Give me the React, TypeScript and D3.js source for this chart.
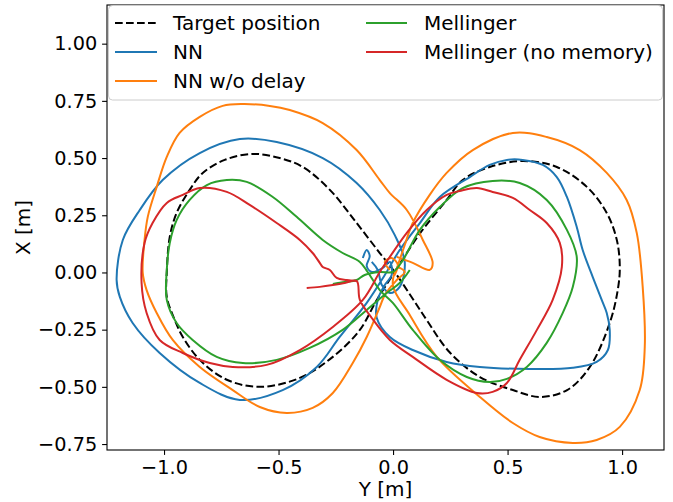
import React, { useEffect, useRef } from 'react'
import * as d3 from 'd3'

type Pt = [number, number]

// values (Y [m], X [m])
const targetPts: Pt[] = [
  [0.007, 0.002], [0.117, 0.17], [0.234, 0.317], [0.304, 0.404], [0.422, 0.461],
  [0.566, 0.487], [0.715, 0.461], [0.846, 0.374], [0.933, 0.26], [0.977, 0.142],
  [0.99, 0.024], [0.981, -0.077], [0.946, -0.221], [0.859, -0.413], [0.76, -0.514],
  [0.64, -0.544], [0.523, -0.514], [0.379, -0.457], [0.247, -0.349], [0.147, -0.208],
  [0.095, -0.129], [0.007, 0.002], [-0.058, 0.085], [-0.159, 0.216], [-0.276, 0.361],
  [-0.394, 0.461], [-0.495, 0.5], [-0.613, 0.518], [-0.735, 0.492], [-0.831, 0.435],
  [-0.888, 0.361], [-0.945, 0.26], [-0.975, 0.155], [-0.988, -0.002], [-0.988, -0.107],
  [-0.953, -0.208], [-0.918, -0.282], [-0.844, -0.382], [-0.726, -0.469], [-0.582, -0.5],
  [-0.407, -0.461], [-0.263, -0.369], [-0.145, -0.251], [-0.071, -0.12], [0.007, 0.002]
]

const nnPts: Pt[] = [
  [-0.132, 0.063], [-0.115, 0.098], [-0.102, 0.072], [-0.115, 0.028], [-0.093, 0.002],
  [-0.045, 0.02], [-0.014, 0.046], [-0.006, -0.011], [-0.036, -0.055], [-0.067, -0.12],
  [-0.071, -0.199], [-0.014, -0.282], [0.086, -0.339], [0.234, -0.391], [0.379, -0.413],
  [0.597, -0.422], [0.785, -0.417], [0.889, -0.391], [0.938, -0.339], [0.946, -0.251],
  [0.933, -0.177], [0.911, -0.12], [0.872, -0.02], [0.828, 0.098], [0.802, 0.199],
  [0.759, 0.33], [0.715, 0.417], [0.654, 0.47], [0.566, 0.492], [0.497, 0.492],
  [0.422, 0.47], [0.335, 0.417], [0.204, 0.33], [0.117, 0.216], [0.029, 0.098],
  [-0.036, -0.011], [-0.115, -0.133], [-0.233, -0.282], [-0.333, -0.413], [-0.482, -0.514],
  [-0.669, -0.557], [-0.844, -0.483], [-1.019, -0.352], [-1.137, -0.221], [-1.193, -0.107],
  [-1.207, -0.033], [-1.18, 0.142], [-1.106, 0.273], [-1.006, 0.404], [-0.844, 0.522],
  [-0.669, 0.583], [-0.508, 0.57], [-0.307, 0.5], [-0.159, 0.391], [-0.058, 0.273],
  [0.007, 0.164], [0.051, 0.046], [0.029, -0.063], [-0.014, -0.09], [-0.049, -0.055],
  [-0.067, 0.011], [-0.093, 0.046]
]

const nnNoDelayPts: Pt[] = [
  [-0.014, 0.011], [-0.036, 0.046], [-0.006, 0.063], [0.021, 0.033], [0.007, -0.011],
  [0.051, 0.12], [0.086, 0.216], [0.16, 0.339], [0.234, 0.435], [0.348, 0.535],
  [0.523, 0.61], [0.671, 0.592], [0.815, 0.535], [0.933, 0.435], [1.02, 0.317],
  [1.064, 0.173], [1.09, -0.063], [1.099, -0.326], [1.077, -0.514], [0.99, -0.675],
  [0.889, -0.732], [0.785, -0.745], [0.64, -0.719], [0.523, -0.658], [0.379, -0.544],
  [0.191, -0.369], [0.073, -0.186], [-0.001, -0.055], [0.021, 0.02], [0.051, 0.002],
  [0.016, -0.033], [-0.036, -0.098], [-0.058, -0.151], [-0.115, -0.282], [-0.176, -0.396],
  [-0.263, -0.527], [-0.351, -0.592], [-0.464, -0.614], [-0.582, -0.588], [-0.7, -0.514],
  [-0.844, -0.413], [-0.962, -0.295], [-1.032, -0.177], [-1.076, -0.077], [-1.093, -0.002],
  [-1.085, 0.142], [-1.071, 0.243], [-1.032, 0.374], [-0.988, 0.505], [-0.932, 0.61],
  [-0.844, 0.68], [-0.744, 0.728], [-0.656, 0.736], [-0.538, 0.728], [-0.451, 0.71],
  [-0.307, 0.653], [-0.159, 0.535], [-0.058, 0.404], [-0.014, 0.347], [0.06, 0.273],
  [0.13, 0.142], [0.173, 0.042], [0.16, 0.011], [0.086, 0.042], [0.016, 0.068]
]

const mellingerPts: Pt[] = [
  [-0.263, -0.05], [-0.211, -0.042], [-0.159, -0.033], [-0.124, -0.011], [-0.058, 0.002],
  [-0.001, 0.002], [0.038, 0.046], [0.117, 0.186], [0.204, 0.286], [0.304, 0.369],
  [0.435, 0.4], [0.553, 0.391], [0.671, 0.317], [0.759, 0.186], [0.802, 0.068],
  [0.785, -0.063], [0.741, -0.177], [0.671, -0.308], [0.584, -0.413], [0.497, -0.465],
  [0.422, -0.479], [0.322, -0.457], [0.204, -0.382], [0.086, -0.251], [-0.001, -0.133],
  [-0.058, -0.077], [-0.111, 0.002], [-0.145, 0.046], [-0.22, 0.085], [-0.307, 0.142],
  [-0.421, 0.243], [-0.525, 0.33], [-0.639, 0.396], [-0.726, 0.404], [-0.813, 0.382],
  [-0.888, 0.317], [-0.945, 0.229], [-0.975, 0.129], [-0.988, 0.011], [-0.988, -0.12],
  [-0.945, -0.221], [-0.875, -0.295], [-0.77, -0.369], [-0.656, -0.396], [-0.508, -0.382],
  [-0.364, -0.33], [-0.22, -0.251], [-0.115, -0.164], [-0.028, -0.09], [0.029, -0.046],
  [0.073, 0.011]
]

const mellingerNoMemPts: Pt[] = [
  [-0.377, -0.068], [-0.32, -0.063], [-0.263, -0.055], [-0.211, -0.046], [-0.159, -0.037],
  [-0.145, -0.12], [-0.093, -0.199], [-0.014, -0.295], [0.086, -0.369], [0.234, -0.469],
  [0.366, -0.527], [0.435, -0.522], [0.497, -0.483], [0.553, -0.382], [0.628, -0.251],
  [0.697, -0.12], [0.737, 0.024], [0.728, 0.129], [0.671, 0.216], [0.597, 0.273],
  [0.523, 0.326], [0.435, 0.352], [0.366, 0.369], [0.291, 0.356], [0.234, 0.339],
  [0.147, 0.273], [0.06, 0.173], [-0.014, 0.068], [-0.058, 0.002], [-0.132, -0.12],
  [-0.263, -0.238], [-0.407, -0.339], [-0.552, -0.404], [-0.7, -0.413], [-0.8, -0.396],
  [-0.918, -0.352], [-1.019, -0.295], [-1.076, -0.177], [-1.098, -0.046], [-1.085, 0.129],
  [-1.05, 0.216], [-0.988, 0.304], [-0.918, 0.339], [-0.844, 0.369], [-0.726, 0.352],
  [-0.626, 0.295], [-0.508, 0.216], [-0.407, 0.142], [-0.351, 0.085], [-0.32, 0.042],
  [-0.307, 0.024], [-0.276, 0.011], [-0.246, -0.024], [-0.202, -0.033], [-0.159, -0.037]
]

const seriesNames = ['Target position', 'NN', 'NN w/o delay', 'Mellinger', 'Mellinger (no memory)']
const seriesColors = ['#000000', '#1f77b4', '#ff7f0e', '#2ca02c', '#d62728']
const seriesData = [targetPts, nnPts, nnNoDelayPts, mellingerPts, mellingerNoMemPts]

const xTicks = [-1.0, -0.5, 0.0, 0.5, 1.0]
const yTicks = [-0.75, -0.5, -0.25, 0.0, 0.25, 0.5, 0.75, 1.0]

const FONT = 'DejaVu Sans'
const TICK_FS = 19.3
const LABEL_FS = 20

export default function App () {
  const ref = useRef<SVGSVGElement>(null)

  useEffect(() => {
    const svg = d3.select(ref.current)
    svg.selectAll('*').remove()

    const left = 107
    const right = 664
    const top = 5
    const bottom = 450

    const x = d3.scaleLinear().domain([-1.249, 1.183]).range([left, right])
    const y = d3.scaleLinear().domain([-0.776, 1.169]).range([bottom, top])

    const line = d3.line<Pt>()
      .x(d => x(d[0]))
      .y(d => y(d[1]))
      .curve(d3.curveCatmullRom.alpha(0.5))

    svg.append('g').selectAll('path')
      .data(seriesData)
      .enter().append('path')
      .attr('d', d => line(d))
      .attr('fill', 'none')
      .attr('stroke', (d, i) => seriesColors[i])
      .attr('stroke-width', 2)
      .attr('stroke-linejoin', 'round')
      .attr('stroke-dasharray', (d, i) => i === 0 ? '7.7,3.3' : null)

    // axes
    const gx = svg.append('g')
      .attr('transform', 'translate(0,' + bottom + ')')
      .call(d3.axisBottom(x).tickValues(xTicks).tickFormat(d3.format('.1f'))
        .tickSizeInner(4.9).tickSizeOuter(0).tickPadding(4.9))
    gx.attr('font-size', TICK_FS).attr('font-family', FONT)
    gx.select('.domain').remove()
    gx.selectAll('line').attr('stroke', '#000').attr('stroke-width', 1.1)
    gx.selectAll('text').attr('fill', '#000')

    const gy = svg.append('g')
      .attr('transform', 'translate(' + left + ',0)')
      .call(d3.axisLeft(y).tickValues(yTicks).tickFormat(d3.format('.2f'))
        .tickSizeInner(4.9).tickSizeOuter(0).tickPadding(4.9))
    gy.attr('font-size', TICK_FS).attr('font-family', FONT)
    gy.select('.domain').remove()
    gy.selectAll('line').attr('stroke', '#000').attr('stroke-width', 1.1)
    gy.selectAll('text').attr('fill', '#000')

    // spines
    svg.append('rect')
      .attr('x', left)
      .attr('y', top)
      .attr('width', right - left)
      .attr('height', bottom - top)
      .attr('fill', 'none')
      .attr('stroke', '#000')
      .attr('stroke-width', 1.1)

    svg.append('text')
      .attr('x', (left + right) / 2)
      .attr('y', 496)
      .attr('text-anchor', 'middle')
      .attr('font-family', FONT)
      .attr('font-size', LABEL_FS)
      .text('Y [m]')

    svg.append('text')
      .attr('transform', 'translate(30,' + (top + bottom) / 2 + ') rotate(-90)')
      .attr('text-anchor', 'middle')
      .attr('font-family', FONT)
      .attr('font-size', LABEL_FS)
      .text('X [m]')

    // legend
    const lg = svg.append('g')
    lg.append('rect')
      .attr('x', 108.5)
      .attr('y', 5.5)
      .attr('width', 554)
      .attr('height', 94.5)
      .attr('rx', 4)
      .attr('fill', '#fff')
      .attr('fill-opacity', 0.8)
      .attr('stroke', '#cccccc')
      .attr('stroke-width', 1)

    const cols = [[115, 157, 173], [366, 407, 424]]
    const rowY = [23, 52, 81]
    seriesNames.forEach((name, i) => {
      const c = i < 3 ? 0 : 1
      const r = i < 3 ? i : i - 3
      lg.append('line')
        .attr('x1', cols[c][0])
        .attr('x2', cols[c][1])
        .attr('y1', rowY[r])
        .attr('y2', rowY[r])
        .attr('stroke', seriesColors[i])
        .attr('stroke-width', 2)
        .attr('stroke-dasharray', i === 0 ? '7.7,3.3' : null)
      lg.append('text')
        .attr('x', cols[c][2])
        .attr('y', rowY[r] + 7)
        .attr('font-family', FONT)
        .attr('font-size', LABEL_FS)
        .text(name)
    })
  }, [])

  return (
    <svg
      ref={ref}
      width={673}
      height={502}
      style={{ position: 'absolute', left: 0, top: 0, background: '#fff' }}
    />
  )
}
